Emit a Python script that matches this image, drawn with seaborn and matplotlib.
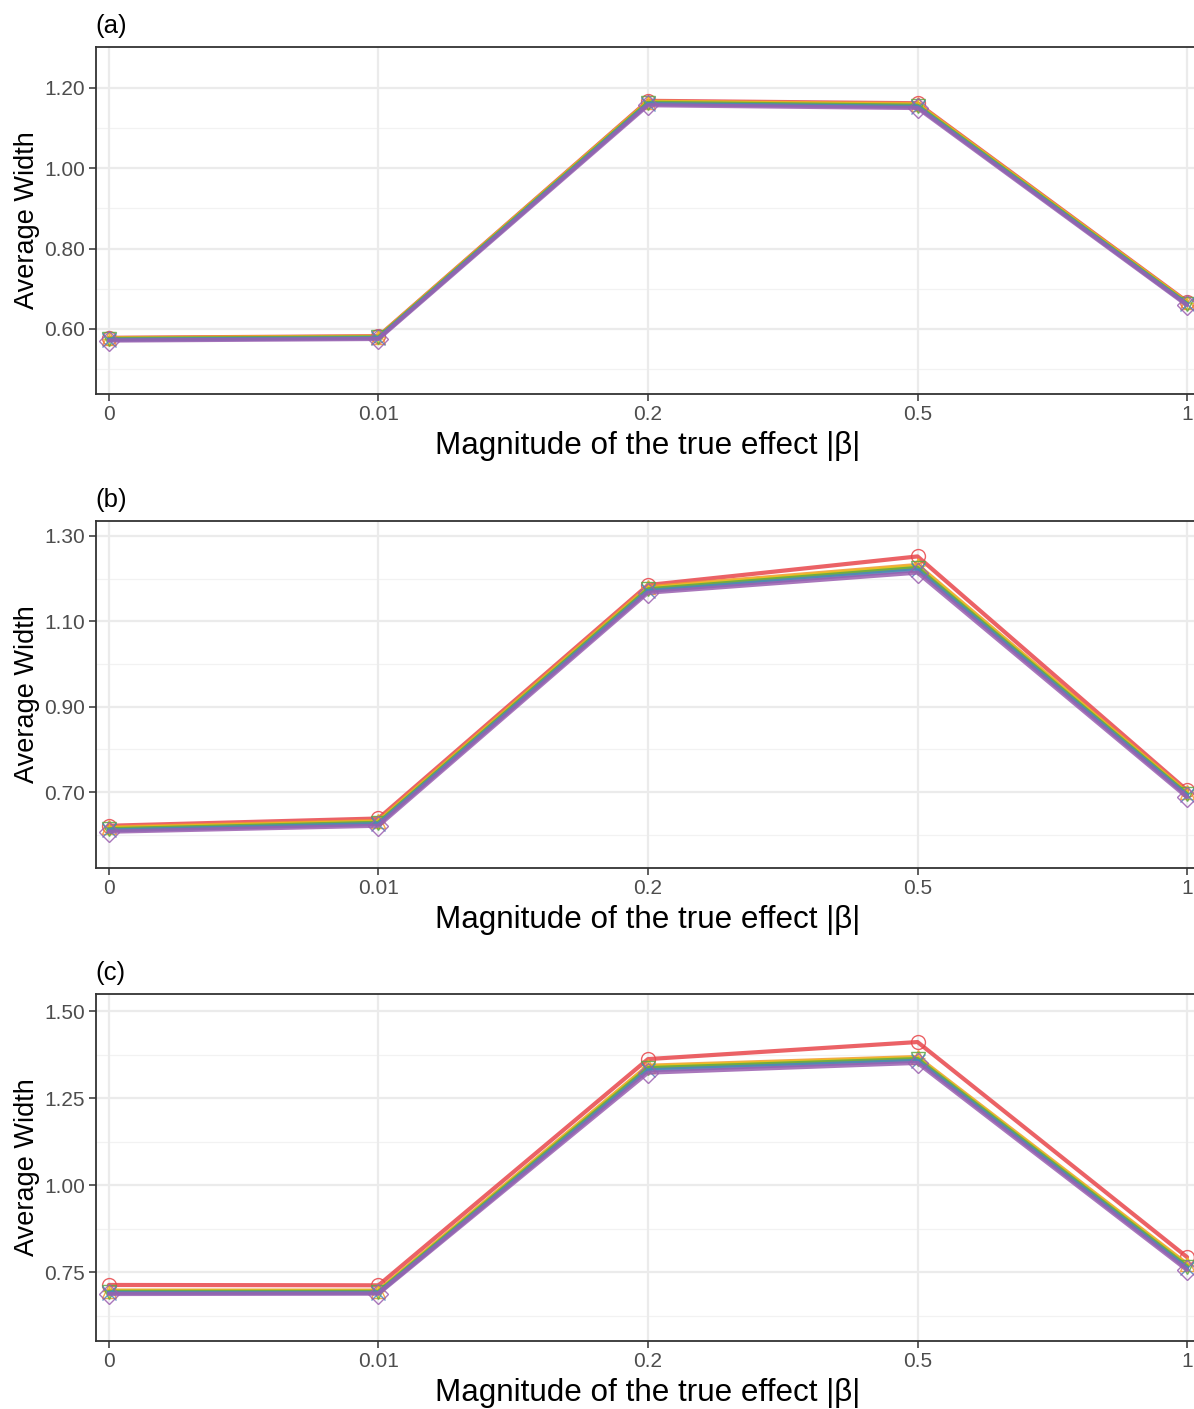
import numpy as np
import pandas as pd
import seaborn as sns
import matplotlib
matplotlib.use("Agg")
import matplotlib.pyplot as plt
from matplotlib.ticker import FixedLocator

sns.set_theme(style="white")
plt.rcParams['font.family'] = ['Liberation Sans', 'DejaVu Sans']

# ---- data ----
x_labels = ["0", "0.01", "0.2", "0.5", "1"]
series_names = ["s1", "s2", "s3", "s4", "s5", "s6"]
series_colors = ["#E8474B", "#F39A2B", "#E6C31A", "#5DAA45", "#4A86C0", "#9A5FB0"]
series_markers = ["o", "^", "+", "v", "x", "D"]

panel_a = {
    "s1": [0.578, 0.582, 1.168, 1.162, 0.668],
    "s2": [0.577, 0.581, 1.166, 1.160, 0.666],
    "s3": [0.576, 0.580, 1.165, 1.158, 0.665],
    "s4": [0.575, 0.579, 1.163, 1.156, 0.663],
    "s5": [0.573, 0.577, 1.160, 1.153, 0.661],
    "s6": [0.571, 0.575, 1.157, 1.150, 0.659],
}
panel_b = {
    "s1": [0.621, 0.638, 1.185, 1.252, 0.704],
    "s2": [0.617, 0.632, 1.180, 1.232, 0.699],
    "s3": [0.615, 0.630, 1.177, 1.229, 0.697],
    "s4": [0.613, 0.628, 1.175, 1.225, 0.695],
    "s5": [0.610, 0.625, 1.171, 1.220, 0.692],
    "s6": [0.607, 0.621, 1.167, 1.214, 0.688],
}
panel_c = {
    "s1": [0.713, 0.712, 1.362, 1.411, 0.793],
    "s2": [0.697, 0.697, 1.343, 1.368, 0.773],
    "s3": [0.695, 0.695, 1.340, 1.365, 0.770],
    "s4": [0.693, 0.693, 1.336, 1.362, 0.766],
    "s5": [0.690, 0.690, 1.330, 1.357, 0.761],
    "s6": [0.687, 0.688, 1.323, 1.351, 0.756],
}

panels = [
    ("(a)", panel_a, (0.438, 1.302), [0.60, 0.80, 1.00, 1.20], [0.5, 0.7, 0.9, 1.1], "{:.2f}"),
    ("(b)", panel_b, (0.522, 1.335), [0.70, 0.90, 1.10, 1.30], [0.6, 0.8, 1.0, 1.2], "{:.2f}"),
    ("(c)", panel_c, (0.552, 1.549), [0.75, 1.00, 1.25, 1.50], [0.625, 0.875, 1.125, 1.375], "{:.2f}"),
]

W, H = 1194, 1409
fig = plt.figure(figsize=(W / 100, H / 100), dpi=100)
fig.patch.set_facecolor("white")

tops = [47, 521, 994]
ax_h = 347
left_px, right_px = 96, 1200

pos = np.arange(len(x_labels))
for (title, data, ylim, majors, minors, fmt), top in zip(panels, tops):
    ax = fig.add_axes([left_px / W, 1 - (top + ax_h) / H, (right_px - left_px) / W, ax_h / H])
    ax.set_facecolor("white")
    # gridlines
    for v in minors:
        ax.axhline(v, color="#F2F2F2", lw=0.9, zorder=0)
    for v in majors:
        ax.axhline(v, color="#EBEBEB", lw=1.6, zorder=0)
    for p in pos:
        ax.axvline(p, color="#EBEBEB", lw=1.6, zorder=0)

    for name, col, mk in zip(series_names, series_colors, series_markers):
        df = pd.DataFrame({"pos": pos, "val": data[name]})
        sns.lineplot(data=df, x="pos", y="val", ax=ax, color=col, lw=3.0,
                     marker=mk, markersize=10, mfc="none", mec=col, mew=1.0,
                     alpha=0.85, zorder=3)

    ax.set_xlim(-0.048, 4.048)
    ax.set_ylim(*ylim)
    ax.xaxis.set_major_locator(FixedLocator(pos))
    ax.set_xticklabels(x_labels)
    ax.yaxis.set_major_locator(FixedLocator(majors))
    ax.set_yticklabels([fmt.format(v) for v in majors])
    ax.tick_params(axis="both", which="major", direction="out", length=5, width=1.1,
                   color="#333333", labelsize=15, labelcolor="#4D4D4D", pad=3,
                   bottom=True, left=True)
    for side in ["left", "bottom", "top", "right"]:
        ax.spines[side].set_color("#333333")
        ax.spines[side].set_linewidth(1.3)
    ax.set_xlabel("Magnitude of the true effect |β|", fontsize=22.6, color="black", labelpad=5)
    ax.set_ylabel("Average Width", fontsize=19.5, color="black", labelpad=3)
    ax.set_title(title, loc="left", fontsize=18.5, color="black", pad=10, x=-0.001)

fig.savefig("out.png", dpi=100, facecolor="white")
